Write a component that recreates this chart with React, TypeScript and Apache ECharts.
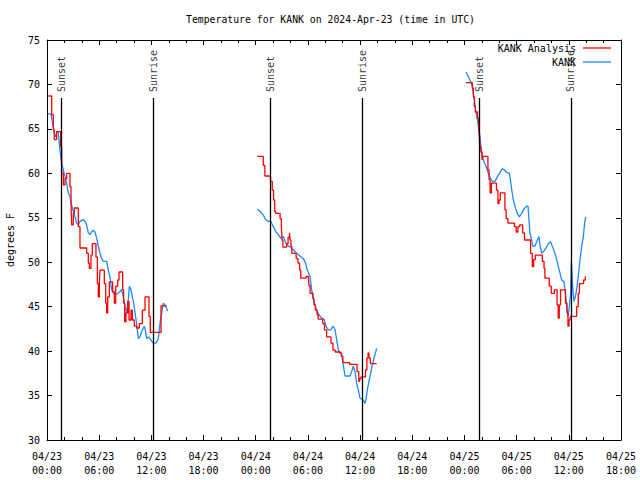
import React, { useEffect, useRef } from "react";
import * as echarts from "echarts";

// Hours since 2024-04-23 00:00 UTC, temperature in degrees F
const analysisDay1: number[][] = [
  [0.15, 68.7], [0.54, 66.6], [0.73, 64.9], [0.84, 63.8], [1.11, 64.7], [1.57, 63.0], [1.69, 60.0],
  [1.88, 58.7], [2.07, 59.4], [2.26, 60.0], [2.64, 58.5], [2.76, 56.6], [2.84, 54.2], [3.03, 55.5],
  [3.14, 56.1], [3.6, 54.0], [3.79, 51.6], [4.56, 51.0], [4.75, 49.9], [4.87, 49.3], [5.06, 50.8],
  [5.21, 52.1], [5.63, 50.6], [5.79, 47.6], [5.9, 46.1], [6.02, 47.6], [6.09, 49.1], [6.59, 47.6],
  [6.75, 45.4], [6.86, 44.3], [6.98, 46.1], [7.17, 47.8], [7.55, 46.7], [7.74, 45.4], [7.9, 47.3],
  [8.13, 48.0], [8.28, 48.9], [8.7, 46.9], [8.81, 45.4], [8.93, 43.3], [9.08, 44.3], [9.28, 45.6],
  [9.43, 43.5], [9.66, 44.6], [9.81, 43.5], [10.04, 42.8], [10.31, 42.6], [10.62, 43.1], [10.96, 44.6],
  [11.27, 46.1], [11.73, 43.9], [11.88, 42.1], [13.11, 45.1], [13.76, 45.1],
];
const obsDay1: number[][] = [
  [0.08, 66.7], [0.46, 66.7], [0.61, 65.8], [0.84, 64.5], [0.97, 64.1], [1.15, 64.7], [1.3, 64.6],
  [1.49, 62.6], [1.69, 61.1], [1.88, 60.4], [2.07, 59.6], [2.26, 58.9], [2.45, 57.8], [2.64, 57.4],
  [2.84, 56.4], [3.03, 55.7], [3.22, 55.1], [3.41, 54.4], [3.6, 54.2], [3.79, 54.6], [3.99, 54.7],
  [4.18, 54.8], [4.37, 54.6], [4.56, 54.2], [4.75, 53.3], [4.94, 53.1], [5.14, 53.4], [5.33, 53.6],
  [5.52, 53.4], [5.71, 52.7], [5.9, 51.8], [6.09, 51.0], [6.29, 50.4], [6.48, 50.1], [6.86, 50.1],
  [7.05, 49.1], [7.24, 48.4], [7.43, 46.9], [7.63, 46.5], [8.01, 46.4], [8.39, 46.7], [8.59, 46.9],
  [8.78, 46.1], [8.97, 45.0], [9.16, 44.3], [9.35, 45.8], [9.47, 47.3], [9.66, 46.9], [9.81, 46.1],
  [9.97, 45.4], [10.12, 44.3], [10.31, 43.1], [10.5, 41.4], [10.69, 41.6], [10.89, 42.2], [11.08, 42.6],
  [11.19, 42.8], [11.35, 42.2], [11.46, 41.4], [11.65, 41.6], [11.84, 41.4], [12.04, 41.1], [12.23, 40.9],
  [12.54, 40.9], [12.8, 41.4], [12.99, 43.1], [13.19, 44.3], [13.38, 45.4], [13.57, 45.2], [13.76, 44.8],
  [13.88, 44.5],
];
const analysisDay2: number[][] = [
  [24.18, 61.9], [24.87, 60.9], [25.05, 59.7], [25.7, 59.1], [25.9, 58.1], [26.05, 57.0], [26.18, 55.7],
  [26.3, 55.5], [26.8, 54.9], [26.95, 54.0], [27.03, 52.5], [27.12, 51.7], [27.55, 52.1], [27.72, 52.8],
  [27.88, 53.3], [27.96, 52.5], [28.05, 51.8], [28.15, 51.0], [28.65, 50.4], [28.85, 49.9], [29.05, 49.1],
  [29.18, 48.2], [29.8, 48.4], [30.05, 48.2], [30.12, 47.4], [30.25, 46.5], [30.58, 45.9], [30.7, 45.2],
  [30.85, 44.6], [31.05, 44.1], [31.18, 43.6], [31.7, 43.1], [31.9, 42.4], [32.15, 41.6], [32.65, 40.9],
  [32.88, 40.1], [33.15, 39.9], [33.65, 39.8], [33.85, 39.4], [34.02, 38.7], [34.8, 38.5], [35.65, 37.7],
  [35.85, 36.6], [35.95, 36.9], [36.1, 37.1], [36.62, 37.9], [36.78, 39.2], [36.92, 39.8], [37.02, 39.2],
  [37.18, 38.6], [37.9, 38.6],
];
const obsDay2: number[][] = [
  [24.18, 56.0], [24.49, 55.7], [24.87, 55.3], [25.14, 54.8], [25.45, 54.6], [25.72, 54.6], [26.02, 54.0],
  [26.33, 53.4], [26.6, 53.1], [26.87, 52.7], [27.17, 52.9], [27.48, 52.1], [27.75, 51.8], [28.02, 51.7],
  [28.32, 51.4], [28.71, 51.0], [29.09, 50.7], [29.48, 50.4], [29.74, 49.9], [29.93, 49.1], [30.24, 48.4],
  [30.43, 46.9], [30.62, 45.9], [30.81, 45.2], [31.0, 44.6], [31.27, 44.1], [31.58, 43.7], [31.85, 43.6],
  [32.08, 42.8], [32.35, 42.4], [32.62, 42.4], [32.92, 42.8], [33.12, 42.4], [33.31, 41.3], [33.5, 40.1],
  [33.69, 39.9], [33.88, 39.7], [34.07, 38.4], [34.27, 37.2], [34.84, 37.2], [35.03, 37.7], [35.22, 38.3],
  [35.41, 37.7], [35.61, 36.4], [35.8, 35.6], [35.99, 34.7], [36.37, 34.5], [36.56, 34.1], [36.68, 34.6],
  [36.83, 35.6], [37.06, 36.8], [37.33, 38.1], [37.6, 39.2], [37.9, 40.3],
];
const analysisDay3: number[][] = [
  [48.18, 70.2], [48.9, 69.6], [49.02, 68.6], [49.14, 67.5], [49.25, 66.9], [49.5, 66.2], [49.63, 65.3],
  [49.71, 64.1], [49.79, 63.0], [49.9, 62.4], [50.02, 61.5], [50.1, 61.9], [50.7, 60.4], [50.83, 59.3],
  [50.95, 57.8], [51.1, 58.9], [51.68, 58.1], [51.85, 56.6], [51.98, 57.0], [52.12, 57.8], [52.65, 55.9],
  [52.8, 54.9], [53.0, 54.4], [53.75, 54.0], [53.95, 53.4], [54.15, 54.0], [54.35, 54.2], [54.7, 53.3],
  [54.9, 52.5], [55.6, 51.0], [55.8, 49.5], [55.95, 50.3], [56.15, 50.8], [56.95, 50.1], [57.15, 49.3],
  [57.25, 48.2], [57.75, 47.3], [57.98, 46.5], [58.35, 46.9], [58.65, 45.2], [58.78, 43.7], [58.9, 45.2],
  [59.05, 46.9], [59.62, 45.4], [59.78, 44.3], [59.9, 42.8], [60.02, 43.5], [60.15, 43.9], [60.9, 45.0],
  [61.08, 46.5], [61.22, 47.6], [61.7, 48.0], [61.9, 48.4],
];
const obsDay3: number[][] = [
  [48.18, 71.4], [48.44, 70.9], [48.71, 70.3], [48.91, 69.8], [49.02, 69.0], [49.14, 68.3], [49.29, 67.1],
  [49.48, 66.0], [49.63, 65.1], [49.79, 64.1], [49.9, 62.8], [50.06, 61.9], [50.25, 61.3], [50.48, 60.8],
  [50.74, 60.0], [51.01, 59.4], [51.21, 59.1], [51.51, 59.1], [51.78, 59.6], [52.09, 60.1], [52.35, 60.5],
  [52.59, 60.4], [52.85, 60.1], [53.16, 60.0], [53.31, 59.1], [53.47, 57.9], [53.62, 57.0], [53.81, 56.3],
  [54.08, 55.5], [54.31, 55.1], [54.58, 55.5], [54.85, 56.0], [55.15, 56.3], [55.31, 56.3], [55.42, 54.8],
  [55.53, 53.3], [55.73, 52.5], [55.84, 51.8], [56.11, 51.8], [56.3, 52.3], [56.57, 52.9], [56.69, 51.9],
  [56.88, 51.0], [57.07, 51.2], [57.38, 51.6], [57.65, 52.1], [57.91, 52.3], [58.14, 51.7], [58.41, 51.0],
  [58.6, 50.3], [58.79, 49.5], [58.98, 48.8], [59.18, 48.0], [59.45, 47.8], [59.6, 46.5], [59.75, 45.2],
  [59.91, 43.9], [60.06, 45.0], [60.21, 46.5], [60.29, 50.1], [60.36, 48.8], [60.44, 47.2], [60.59, 45.6],
  [60.75, 46.1], [60.9, 46.9], [61.09, 48.4], [61.29, 50.3], [61.48, 51.8], [61.67, 52.9], [61.82, 54.4],
  [61.94, 55.1],
];

const sunTimes = [1.64, 12.22, 25.72, 36.26, 49.71, 60.25];
const sunLabels = ["Sunset", "Sunrise", "Sunset", "Sunrise", "Sunset", "Sunrise"];

const titleText = "Temperature for KANK on 2024-Apr-23 (time in UTC)";
const seriesNames = ["KANK Analysis", "KANK"];
const seriesColors = ["#ff0000", "#1e88ff"];
const yAxisName = "degrees F";

const FONT = "DejaVu Sans Mono";

function fmtX(h: number): string {
  const day = 23 + Math.floor(h / 24);
  const hr = h % 24;
  return `04/${day}\n${String(hr).padStart(2, "0")}:00`;
}

export default function App() {
  const ref = useRef<HTMLDivElement>(null);
  useEffect(() => {
    if (!ref.current) return;
    const chart = echarts.init(ref.current, null, { renderer: "svg" });
    const gridL = 47, gridR = 621, gridT = 40;
    const tick = { show: true, inside: true, length: 5, lineStyle: { color: "#000" } };
    const minor = { show: true, splitNumber: 3, length: 3, lineStyle: { color: "#000" } };
    const axisLine = { show: true, onZero: false, lineStyle: { color: "#000", width: 1 } };

    const analysisSeries = [analysisDay1, analysisDay2, analysisDay3].map((d) => ({
      type: "line",
      name: seriesNames[0],
      data: d,
      step: "end",
      showSymbol: false,
      symbol: "none",
      lineStyle: { color: seriesColors[0], width: 1.3 },
      itemStyle: { color: seriesColors[0] },
      z: 3,
    }));
    const obsSeries = [obsDay1, obsDay2, obsDay3].map((d) => ({
      type: "line",
      name: seriesNames[1],
      data: d,
      showSymbol: false,
      symbol: "none",
      lineStyle: { color: seriesColors[1], width: 1.3 },
      itemStyle: { color: seriesColors[1] },
      z: 2,
    }));

    const legendGraphics: any[] = [];
    seriesNames.forEach((n, i) => {
      const y = 48 + i * 14;
      legendGraphics.push({
        type: "text",
        x: 576,
        y,
        style: { text: n, align: "right", verticalAlign: "middle", font: `10px "${FONT}"`, fill: "#000" },
      });
      legendGraphics.push({
        type: "line",
        shape: { x1: 583, y1: y, x2: 611, y2: y },
        style: { stroke: seriesColors[i], lineWidth: 1.3 },
      });
    });

    chart.setOption({
      animation: false,
      backgroundColor: "#fff",
      title: {
        text: titleText,
        left: 186,
        top: 14,
        padding: 0,
        textStyle: { fontFamily: FONT, fontSize: 9.8, fontWeight: "normal", color: "#000" },
      },
      grid: {
        left: gridL,
        right: 640 - gridR,
        top: gridT,
        bottom: 40,
        containLabel: false,
        outerBoundsMode: "none",
      },
      xAxis: [
        {
          type: "value",
          min: 0,
          max: 66,
          interval: 6,
          position: "bottom",
          axisLine,
          axisTick: tick,
          minorTick: minor,
          splitLine: { show: false },
          axisLabel: {
            formatter: (v: number) => fmtX(v),
            fontFamily: FONT,
            fontSize: 10,
            color: "#000",
            lineHeight: 14,
            margin: 9,
            showMaxLabel: true,
            showMinLabel: true,
          },
        },
        {
          type: "value",
          min: 0,
          max: 66,
          interval: 6,
          position: "top",
          axisLine,
          axisTick: tick,
          minorTick: minor,
          splitLine: { show: false },
          axisLabel: { show: false },
        },
      ],
      yAxis: [
        {
          type: "value",
          min: 30,
          max: 75,
          interval: 5,
          position: "left",
          name: yAxisName,
          nameLocation: "middle",
          nameGap: 32,
          nameTextStyle: { fontFamily: FONT, fontSize: 10, color: "#000" },
          axisLine,
          axisTick: tick,
          splitLine: { show: false },
          axisLabel: { fontFamily: FONT, fontSize: 10, color: "#000", margin: 7 },
        },
        {
          type: "value",
          min: 30,
          max: 75,
          interval: 5,
          position: "right",
          axisLine,
          axisTick: tick,
          splitLine: { show: false },
          axisLabel: { show: false },
        },
      ],
      series: [
        {
          type: "scatter",
          name: "sun",
          data: sunTimes.map((t, i) => [t, 69.15, sunLabels[i]]),
          symbolSize: 0,
          silent: true,
          label: {
            show: true,
            position: "inside",
            rotate: 90,
            align: "left",
            verticalAlign: "middle",
            formatter: (p: any) => p.data[2],
            fontFamily: FONT,
            fontSize: 10,
            color: "#000",
          },
          markLine: {
            silent: true,
            symbol: "none",
            label: { show: false },
            lineStyle: { color: "#000", width: 1.3, type: "solid" },
            data: sunTimes.map((t) => [{ coord: [t, 68.47] }, { coord: [t, 30] }]),
          },
          z: 1,
        },
        ...analysisSeries,
        ...obsSeries,
      ],
      graphic: legendGraphics,
    });
    return () => chart.dispose();
  }, []);
  return (
    <div
      ref={ref}
      style={{ position: "absolute", left: 0, top: 0, width: 640, height: 480, background: "#fff" }}
    />
  );
}
